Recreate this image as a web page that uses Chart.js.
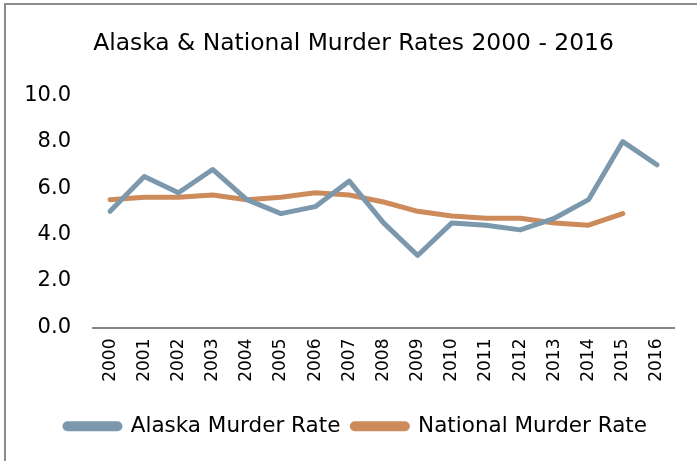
<!DOCTYPE html>
<html>
<head>
<meta charset="utf-8">
<script src="https://cdn.jsdelivr.net/npm/chart.js@4"></script>
<style>
    body { margin: 0; background: #fff; }
    #wrap { position: relative; width: 697px; height: 461px; }
    #frame {
        position: absolute; left: 4px; top: 3px; right: -10px; bottom: -10px;
        border-left: 2px solid #8c8c8c; border-top: 2px solid #8c8c8c;
        pointer-events: none;
    }
</style>
</head>
<body>
<div id="wrap">
    <canvas id="lineChart" width="697" height="461"></canvas>
    <div id="frame"></div>
</div>
<script>
var years = ['2000', '2001', '2002', '2003', '2004', '2005', '2006', '2007', '2008',
    '2009', '2010', '2011', '2012', '2013', '2014', '2015', '2016'];
var alaskaRate = [5.0, 6.5, 5.8, 6.8, 5.5, 4.9, 5.2, 6.3, 4.5, 3.1, 4.5, 4.4, 4.2, 4.7, 5.5, 8.0, 7.0];
var nationalRate = [5.5, 5.6, 5.6, 5.7, 5.5, 5.6, 5.8, 5.7, 5.4, 5.0, 4.8, 4.7, 4.7, 4.5, 4.4, 4.9, null];
var yTicks = [0, 2, 4, 6, 8, 10];

var fontFamily = '"DejaVu Sans", sans-serif';

var ctx = document.getElementById('lineChart').getContext('2d');
new Chart(ctx, {
    type: 'line',
    data: {
        labels: years,
        datasets: [
            {
                label: 'Alaska Murder Rate',
                data: alaskaRate,
                borderColor: '#7b98ad',
                backgroundColor: '#7b98ad',
                borderWidth: 5,
                borderCapStyle: 'round',
                borderJoinStyle: 'round',
                pointRadius: 0,
                tension: 0
            },
            {
                label: 'National Murder Rate',
                data: nationalRate,
                borderColor: '#cd8a5b',
                backgroundColor: '#cd8a5b',
                borderWidth: 5,
                borderCapStyle: 'round',
                borderJoinStyle: 'round',
                pointRadius: 0,
                tension: 0
            }
        ]
    },
    options: {
        responsive: false,
        animation: false,
        layout: { padding: { left: 0, right: 23, top: 0, bottom: 14 } },
        plugins: {
            title: {
                display: true,
                text: 'Alaska & National Murder Rates 2000 - 2016',
                color: '#000',
                font: { family: fontFamily, size: 23.4, weight: 'normal' },
                padding: { top: 30, bottom: 37 }
            },
            legend: {
                position: 'bottom',
                labels: {
                    color: '#000',
                    font: { family: fontFamily, size: 21.5 },
                    boxWidth: 55,
                    boxHeight: 5,
                    useBorderRadius: true,
                    borderRadius: 2.5,
                    padding: 12
                }
            },
            tooltip: { enabled: false }
        },
        scales: {
            x: {
                offset: true,
                grid: { display: false, drawTicks: false },
                border: { display: true, color: '#868686', width: 2 },
                ticks: {
                    color: '#000',
                    font: { family: fontFamily, size: 17 },
                    minRotation: 90,
                    maxRotation: 90,
                    padding: 11
                },
                afterFit: function (scale) { scale.height = 76; }
            },
            y: {
                min: 0,
                max: 10,
                afterBuildTicks: function (scale) {
                    scale.ticks = yTicks.map(function (v) { return { value: v }; });
                },
                grid: { display: false, drawTicks: false },
                border: { display: false },
                ticks: {
                    color: '#000',
                    font: { family: fontFamily, size: 21 },
                    padding: 22,
                    callback: function (v) { return Number(v).toFixed(1); }
                },
                afterFit: function (scale) { scale.width = 93; }
            }
        }
    },
    plugins: [{
        id: 'whiteBg',
        beforeDraw: function (chart) {
            var c = chart.ctx;
            c.save();
            c.fillStyle = '#fff';
            c.fillRect(0, 0, chart.width, chart.height);
            c.restore();
        }
    }, {
        // centre title and legend the way the original sheet does
        id: 'shiftBoxes',
        afterLayout: function (chart) {
            chart.titleBlock.left = 33;
            chart.legend.left = 38;
        }
    }]
});
</script>
</body>
</html>
